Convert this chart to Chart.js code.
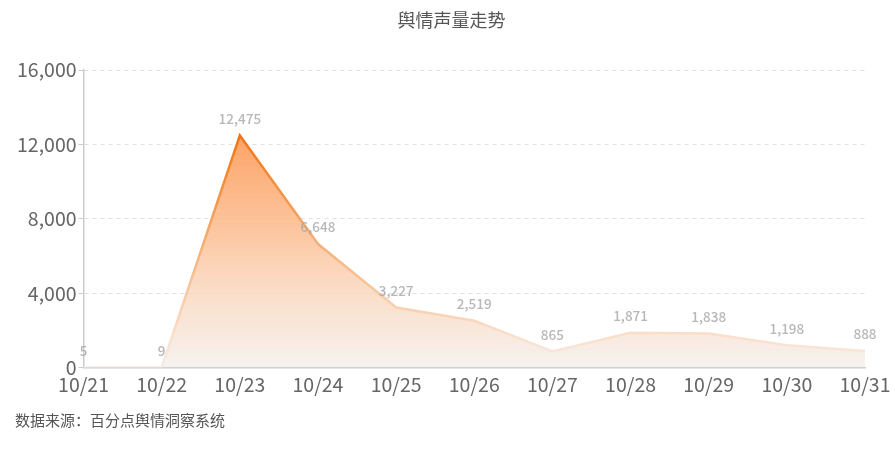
<!DOCTYPE html>
<html><head><meta charset="utf-8">
<script src="https://cdn.jsdelivr.net/npm/chart.js@4"></script>
<style>html,body{margin:0;padding:0;background:#fff}#wrap{width:895px;height:450px}</style>
</head><body><div id="wrap"><canvas id="c"></canvas></div>
<script>
const categories = ['10/21','10/22','10/23','10/24','10/25','10/26','10/27','10/28','10/29','10/30','10/31'];
const volumes = [5, 9, 12475, 6648, 3227, 2519, 865, 1871, 1838, 1198, 888];
const yTicks = [0, 4000, 8000, 12000, 16000];
const titleText = '舆情声量走势';
const sourceText = '数据来源：百分点舆情洞察系统';

const FONT = '"Noto Sans CJK SC", "Noto Sans", sans-serif';

function vGrad(ctx, area, stops) {
  const g = ctx.createLinearGradient(0, area.top, 0, area.bottom);
  stops.forEach(s => g.addColorStop(s[0], s[1]));
  return g;
}

const labelPlugin = {
  id: 'valLabels',
  afterDatasetsDraw(chart) {
    const ctx = chart.ctx;
    const meta = chart.getDatasetMeta(0);
    ctx.save();
    ctx.font = '500 13.5px ' + FONT;
    ctx.fillStyle = 'rgba(165,165,165,0.8)';
    ctx.textAlign = 'center';
    ctx.textBaseline = 'bottom';
    meta.data.forEach((pt, i) => {
      ctx.fillText(volumes[i].toLocaleString('en-US'), pt.x, pt.y - 10);
    });
    ctx.restore();
  },
  afterDraw(chart) {
    const ctx = chart.ctx;
    ctx.save();
    ctx.font = '18px ' + FONT;
    ctx.fillStyle = '#555';
    ctx.textAlign = 'center';
    ctx.textBaseline = 'middle';
    ctx.fillText(titleText, chart.width / 2 + 4, 20);
    ctx.restore();
  }
};

new Chart(document.getElementById('c'), {
  type: 'line',
  data: {
    labels: categories,
    datasets: [{
      data: volumes,
      fill: 'origin',
      tension: 0,
      borderWidth: 2.5,
      pointRadius: 0,
      pointHoverRadius: 0,
      borderColor: (c) => {
        const a = c.chart.chartArea; if (!a) return '#f07a20';
        return vGrad(c.chart.ctx, a, [[0,'#ea6a08'],[0.22,'#ef7416'],[0.45,'#f29a50'],[0.6,'#f5b27a'],[0.8,'#f8d0b0'],[0.9,'#fae0cc'],[1,'#f3ece9']]);
      },
      backgroundColor: (c) => {
        const a = c.chart.chartArea; if (!a) return 'rgba(255,160,90,0.5)';
        return vGrad(c.chart.ctx, a, [[0,'rgba(252,140,60,0.92)'],[0.22,'rgba(252,150,80,0.88)'],[0.5,'rgba(252,180,130,0.82)'],[0.75,'rgba(249,214,188,0.8)'],[1,'rgba(245,240,238,0.85)']]);
      }
    }]
  },
  options: {
    responsive: true,
    maintainAspectRatio: false,
    animation: false,
    layout: { padding: { left: 15, right: 30, top: 70, bottom: 4 } },
    plugins: {
      legend: { display: false },
      tooltip: { enabled: false },
      title: { display: false },
      subtitle: {
        display: true, text: sourceText, position: 'bottom', align: 'start', color: '#555',
        font: { family: FONT, size: 15, weight: 'normal' },
        padding: { top: 15, bottom: 17 }
      }
    },
    scales: {
      x: {
        offset: false,
        grid: { display: false, drawOnChartArea: false, drawTicks: true, tickLength: 5, tickColor: '#ccc' },
        border: { display: true, color: '#ccc', width: 1.5 },
        ticks: { color: '#666', font: { family: FONT, size: 19.5 }, padding: 0, maxRotation: 0, autoSkip: false }
      },
      y: {
        min: 0, max: 16000,
        afterBuildTicks: (ax) => { ax.ticks = yTicks.map(v => ({ value: v })); },
        grid: { color: '#e0e0e0', lineWidth: 1, drawTicks: true, tickLength: 5, tickColor: '#ccc', tickBorderDash: [] },
        border: { display: true, color: '#ccc', width: 1.5, dash: [4, 4] },
        ticks: { color: '#666', font: { family: FONT, size: 19.5 }, padding: 2,
          callback: (v) => Number(v).toLocaleString('en-US') }
      }
    }
  },
  plugins: [labelPlugin]
});
</script></body></html>
